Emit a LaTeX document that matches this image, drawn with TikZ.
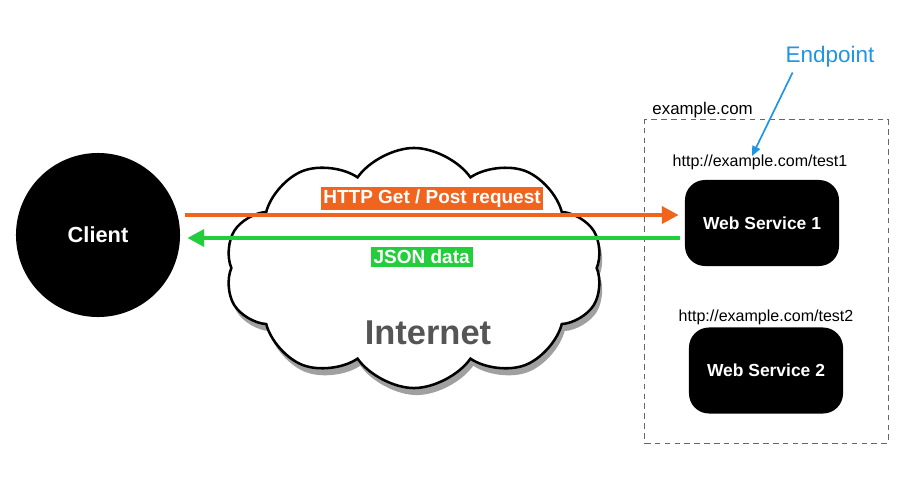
\documentclass[tikz,border=0pt]{standalone}
\usepackage{fontspec}
\setmainfont{Liberation Sans}
\usetikzlibrary{shapes.symbols,shadows,arrows.meta,calc}
\definecolor{reqorange}{RGB}{240,100,30}
\definecolor{resgreen}{RGB}{35,205,60}
\definecolor{epblue}{RGB}{30,150,230}
\definecolor{netgray}{RGB}{85,85,85}
\begin{document}
\begin{tikzpicture}
            [
                x = 0.025cm,
                y = -0.025cm,
                service/.style={
                    fill=black,
                    text=white,
                    rounded corners=0.5cm,
                    minimum width=3.85cm,
                    minimum height=2.15cm,
                    font=\fontsize{12.4}{14}\selectfont\bfseries
                },
                url/.style={font=\fontsize{11.4}{13}\selectfont},
                tag/.style={text=white, inner sep=2pt, font=\fontsize{13.5}{16}\selectfont\bfseries},
                link/.style={line width=2.8pt, -{Triangle[length=12pt, width=12pt]}},
            ]

                \useasboundingbox (0,0) rectangle (900,494);

                % the internet
                \node [cloud, cloud puffs=10, cloud puff arc=110, cloud ignores aspect, draw, line width=1.8pt, fill=white,
                       minimum width=9.45cm, minimum height=6cm,
                       drop shadow={shadow xshift=2pt, shadow yshift=-5pt, opacity=0.75}] (internet) at (414,268) {};
                \node [text=netgray, font=\fontsize{24.5}{28}\selectfont\bfseries] (netlabel) at (428,333) {Internet};

                % client and services
                \node [circle, fill=black, text=white, minimum size=4.1cm,
                       font=\fontsize{15.5}{18}\selectfont\bfseries] (client) at (98,235) {Client};

                \node [draw=gray!80!black, dashed, dash pattern=on 4pt off 3pt, line width=0.7pt,
                       minimum width=6.075cm, minimum height=8.075cm] (domain) at (766.5,281.5) {};
                \node [anchor=base west, font=\fontsize{12}{14}\selectfont] (domainlabel)
                      at ($(domain.north west)+(3,-5)$) {example.com};

                \node [service] (ws1) at (762,223) {Web Service 1};
                \node [service] (ws2) at (766,370.5) {Web Service 2};
                \node [url] (url1) at (760,162) {http://example.com/test1};
                \node [url] (url2) at (766,317) {http://example.com/test2};

                % request and response
                \draw [link, reqorange] ($(client.east)+(5,-20)$) -- ($(ws1.west)+(-6,-8)$)
                    node [midway, above=2pt, tag, fill=reqorange] (reqlabel) {HTTP Get / Post request};
                \draw [link, resgreen] ($(ws1.west)+(-5,15)$) -- ($(client.east)+(7,3)$)
                    node [pos=0.524, below=5pt, tag, fill=resgreen] (reslabel) {JSON data};

                % endpoint
                \node [text=epblue, font=\fontsize{16}{19}\selectfont] (endpoint) at (830,57) {Endpoint};
                \coordinate (eptip) at (752,156);
                \draw [epblue, line width=1.2pt, -{Triangle[length=7pt, width=6pt]}]
                    ($(endpoint.south west)+(12,0)$) -- (eptip);
\end{tikzpicture}
\end{document}
